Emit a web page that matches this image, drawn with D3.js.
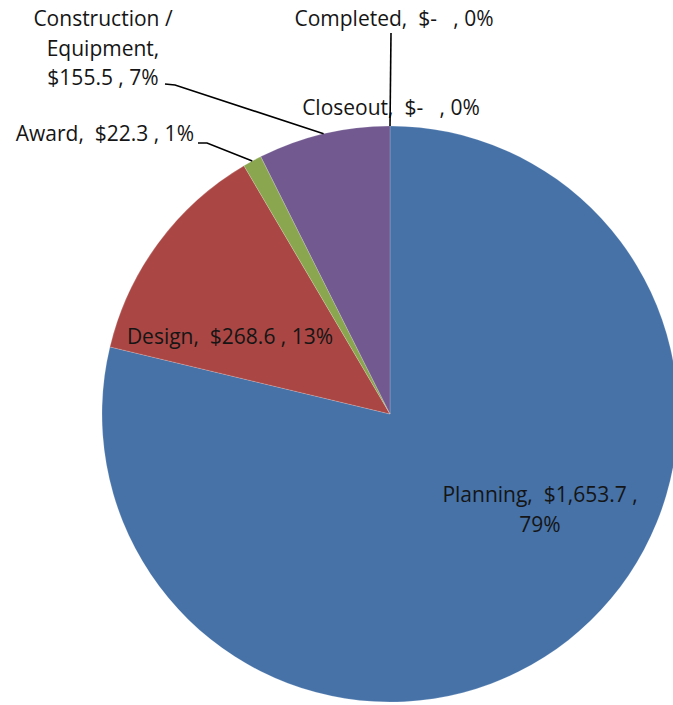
<!DOCTYPE html>
<html>
<head>
<meta charset="utf-8">
<script src="https://cdn.jsdelivr.net/npm/d3@7"></script>
<style>
  html, body { margin: 0; padding: 0; background: #ffffff; }
  svg { display: block; }
  text { font-family: "Open Sans", Lato, sans-serif; fill: #151515; white-space: pre; }
</style>
</head>
<body>
<svg id="chart" width="673" height="705"></svg>
<script>
// ---- data ----
const categories = ["Planning", "Design", "Award", "Construction / Equipment", "Closeout", "Completed"];
const values = [1653.7, 268.6, 22.3, 155.5, 0, 0];
const colors = ["#4672A8", "#AA4744", "#8AA64F", "#725A90", "#4BACC6", "#F79646"];

// ---- label layout ----
const labelLayout = [
  { x: 540, y: 502, anchor: "middle" },                                      // Planning
  { x: 230, y: 344, anchor: "middle" },                                      // Design
  { x: 194, y: 141, anchor: "end", leader: [[198, 143], [207, 143]] },       // Award
  { x: 103, y: 26,  anchor: "middle", leader: [[165, 84], [175, 85]] },      // Construction
  { x: 391, y: 115, anchor: "middle" },                                      // Closeout
  { x: 394, y: 26,  anchor: "middle", leader: [[391, 33]] }                  // Completed
];

const cx = 390, cy = 414, R = 288;

const svg = d3.select("#chart");
const g = svg.append("g").attr("transform", `translate(${cx},${cy})`);

const total = d3.sum(values);
const data = categories.map((c, i) => ({ cat: c, value: values[i], i }));

const pie = d3.pie().sort(null).value(d => d.value).startAngle(0).endAngle(2 * Math.PI);
const arcs = pie(data);
const arc = d3.arc().innerRadius(0).outerRadius(R);

g.selectAll("path.slice")
  .data(arcs.filter(a => a.data.value > 0))
  .join("path")
  .attr("class", "slice")
  .attr("d", arc)
  .attr("fill", d => colors[d.data.i])
  .attr("stroke", "#ffffff")
  .attr("stroke-width", 0.5)
  .attr("stroke-opacity", 0.35);

const fmtVal = v => v === 0 ? "$-  " : "$" + d3.format(",.1f")(v);
const pct = v => Math.round(v / total * 100) + "%";

function edgePoint(a) {
  const m = (a.startAngle + a.endAngle) / 2;
  return [cx + R * Math.sin(m), cy - R * Math.cos(m)];
}

const labelsG = svg.append("g");

arcs.forEach((a, i) => {
  const L = labelLayout[i];
  const d = a.data;
  let lines;
  if (i === 0) {
    lines = [`${d.cat},  ${fmtVal(d.value)} ,`, pct(d.value)];
  } else if (i === 3) {
    lines = ["Construction /", "Equipment,", `${fmtVal(d.value)} , ${pct(d.value)}`];
  } else {
    lines = [`${d.cat},  ${fmtVal(d.value)} , ${pct(d.value)}`];
  }
  const lh = i === 0 ? 30 : 29.5;
  const t = labelsG.append("text")
    .attr("x", L.x).attr("y", L.y)
    .attr("text-anchor", L.anchor)
    .attr("font-size", 21);
  lines.forEach((ln, k) => {
    t.append("tspan").attr("x", L.x).attr("dy", k === 0 ? 0 : lh).text(ln);
  });
  if (L.leader) {
    const p = edgePoint(a);
    const pts = L.leader.concat([p]);
    labelsG.append("path")
      .attr("d", d3.line()(pts))
      .attr("fill", "none")
      .attr("stroke", "#000")
      .attr("stroke-width", 1.6);
  }
});
</script>
</body>
</html>
